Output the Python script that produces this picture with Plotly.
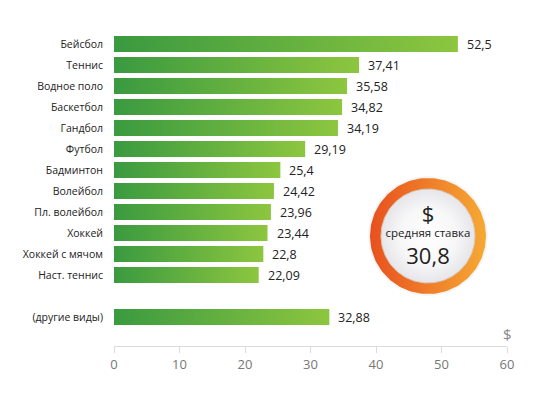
import plotly.graph_objects as go
import numpy as np

categories = ["Бейсбол", "Теннис", "Водное поло", "Баскетбол", "Гандбол", "Футбол",
              "Бадминтон", "Волейбол", "Пл. волейбол", "Хоккей", "Хоккей с мячом",
              "Наст. теннис", "(другие виды)"]
values = [52.5, 37.41, 35.58, 34.82, 34.19, 29.19, 25.4, 24.42, 23.96, 23.44, 22.8, 22.09, 32.88]
positions = [0, 1, 2, 3, 4, 5, 6, 7, 8, 9, 10, 11, 13]
value_labels = ["52,5", "37,41", "35,58", "34,82", "34,19", "29,19", "25,4", "24,42",
                "23,96", "23,44", "22,8", "22,09", "32,88"]
x_ticks = [0, 10, 20, 30, 40, 50, 60]
avg_label = "средняя ставка"
avg_value = "30,8"

L, R, T, B = 114, 33, 30, 60
W, H = 540, 406
half = 0.38  # half bar thickness in category units

fig = go.Figure()

for cat, v, p in zip(categories, values, positions):
    fig.add_trace(go.Scatter(
        x=[0, v, v, 0, 0], y=[p - half, p - half, p + half, p + half, p - half],
        mode="lines", fill="toself", line=dict(width=0),
        fillgradient=dict(type="horizontal", colorscale=[[0, "#3a9a40"], [1, "#8dc63f"]]),
        hoverinfo="skip", showlegend=False))

annotations = [dict(text=lab, x=v, y=p, xref="x", yref="y", xanchor="left", yanchor="middle",
                    xshift=7, showarrow=False,
                    font=dict(family="Open Sans", size=12.5, color="#222"))
               for v, p, lab in zip(values, positions, value_labels)]

# decorative circle (pixel coordinate overlay)
cx, cy, ro, ri = 428, 236, 58, 47
t = np.linspace(0, 2 * np.pi, 181)
fig.add_trace(go.Scatter(
    x=cx + (ro + 2) * np.cos(t), y=cy + (ro + 2) * np.sin(t), xaxis="x2", yaxis="y2",
    mode="lines", fill="toself", line=dict(width=0), fillcolor="rgba(0,0,0,0.04)",
    hoverinfo="skip", showlegend=False))
fig.add_trace(go.Scatter(
    x=cx + ro * np.cos(t), y=cy + ro * np.sin(t), xaxis="x2", yaxis="y2",
    mode="lines", fill="toself", line=dict(width=0),
    fillgradient=dict(type="horizontal", colorscale=[[0, "#e8501e"], [1, "#f6a934"]]),
    hoverinfo="skip", showlegend=False))
fig.add_trace(go.Scatter(
    x=cx + ri * np.cos(t), y=cy + ri * np.sin(t), xaxis="x2", yaxis="y2",
    mode="lines", fill="toself", line=dict(width=1, color="#d9c8b8"),
    fillgradient=dict(type="radial", colorscale=[[0, "#ffffff"], [0.6, "#f7f7f8"], [1, "#e6e6ea"]]),
    hoverinfo="skip", showlegend=False))
fig.add_trace(go.Scatter(
    x=[cx, cx, cx], y=[cy - 20, cy - 2, cy + 22], xaxis="x2", yaxis="y2",
    mode="text", text=["$", avg_label, avg_value],
    textfont=dict(family="Open Sans", size=[22, 11.5, 22], color="#222"),
    hoverinfo="skip", showlegend=False))

annotations.append(dict(text="$", xref="x", yref="paper", x=60, y=0.0, xanchor="center",
                        yanchor="bottom", showarrow=False,
                        font=dict(family="Open Sans", size=15, color="#888")))

fig.update_layout(
    width=W, height=H, margin=dict(l=L, r=R, t=T, b=B),
    paper_bgcolor="white", plot_bgcolor="white",
    xaxis=dict(range=[0, 60], tickvals=x_ticks, showgrid=False, zeroline=False,
               showline=True, linecolor="#dcdcdc", linewidth=1,
               ticks="outside", ticklen=6, tickcolor="#dcdcdc",
               tickfont=dict(family="Open Sans", size=13, color="#777")),
    yaxis=dict(range=[(H - B - 44) / 21, (T - 44) / 21], tickvals=positions, ticktext=categories,
               showgrid=False, zeroline=False, showline=False, ticks="", ticklabelstandoff=10,
               tickfont=dict(family="Open Sans", size=10.5, color="#222")),
    xaxis2=dict(range=[L, W - R], overlaying="x", visible=False, fixedrange=True),
    yaxis2=dict(range=[H - B, T], overlaying="y", visible=False, fixedrange=True),
    annotations=annotations,
)

fig.write_html("out.html")
